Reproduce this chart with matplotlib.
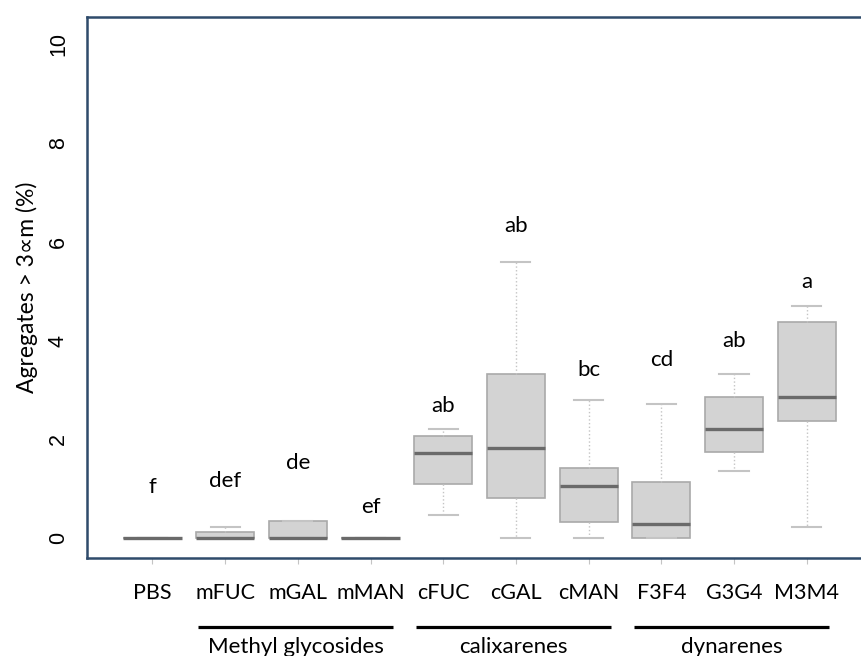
import matplotlib
matplotlib.use("Agg")
import matplotlib.pyplot as plt
import matplotlib.transforms as mtransforms

# kateqoriyalar ve qutu statistikasi (gozle oxunub)
groups = ["PBS", "mFUC", "mGAL", "mMAN", "cFUC", "cGAL", "cMAN", "F3F4", "G3G4", "M3M4"]
whislo = [0, 0, 0, 0, 0.47, 0, 0, 0, 1.36, 0.23]
q1 = [0, 0, 0, 0, 1.09, 0.82, 0.33, 0, 1.74, 2.37]
med = [0, 0, 0, 0, 1.72, 1.82, 1.06, 0.28, 2.21, 2.85]
q3 = [0, 0.13, 0.34, 0, 2.07, 3.32, 1.43, 1.13, 2.85, 4.38]
whishi = [0, 0.23, 0.34, 0, 2.22, 5.59, 2.80, 2.72, 3.33, 4.70]
letters = ["f", "def", "de", "ef", "ab", "ab", "bc", "cd", "ab", "a"]
letter_y = [1.04, 1.15, 1.52, 0.64, 2.68, 6.31, 3.41, 3.60, 4.00, 5.19]
yticks = [0, 2, 4, 6, 8, 10]
families = ["Methyl glycosides", "calixarenes", "dynarenes"]
family_span = [(2, 4), (5, 7), (8, 10)]

W, H = 861, 656
fig = plt.figure(figsize=(W / 100, H / 100), dpi=100)
ax = fig.add_axes([87 / W, (H - 558) / H, (W - 87) / W, (558 - 17) / H])

stats = []
for i in range(len(groups)):
    stats.append({"whislo": whislo[i], "q1": q1[i], "med": med[i],
                  "q3": q3[i], "whishi": whishi[i], "fliers": []})
pos = list(range(1, len(groups) + 1))

ax.bxp(stats, positions=pos, widths=0.8, capwidths=0.4, patch_artist=True,
       boxprops=dict(facecolor="#d3d3d3", edgecolor="#a9a9a9", linewidth=1.2),
       medianprops=dict(color="#6a6a6a", linewidth=2.4),
       whiskerprops=dict(color="#c4c4c4", linewidth=1.0, linestyle=":"),
       capprops=dict(color="#c4c4c4", linewidth=1.5))

ax.set_xlim(0.1, 0.1 + (W - 87) / 72.7)
ax.set_ylim(-0.4, 10.55)

# oxlar
for s in ["left", "top", "bottom"]:
    ax.spines[s].set_color("#2f4b6b")
    ax.spines[s].set_linewidth(1.8)
ax.spines["right"].set_visible(False)

ax.set_yticks(yticks)
ax.set_yticklabels([str(v) for v in yticks], rotation=90, va="center",
                   family="Liberation Sans", fontsize=15.5)
ax.tick_params(axis="y", length=0, pad=13)
ax.set_xticks(pos)
ax.set_xticklabels(groups, family="Lato", fontsize=15.5)
ax.tick_params(axis="x", length=4, color="#c4c4c4", pad=14)
ax.set_ylabel("Agregates > 3\u221dm (%)", family=["Lato", "DejaVu Sans"],
              fontsize=16.5, labelpad=7)

# herfler
for p, t, y in zip(pos, letters, letter_y):
    ax.text(p, y, t, ha="center", va="center", family="Lato", fontsize=16)

# qrup xetleri
tr = mtransforms.blended_transform_factory(ax.transData, ax.transAxes)
for name, (a, b) in zip(families, family_span):
    ax.plot([a - 0.37, b + 0.31], [-0.127, -0.127], color="black", linewidth=2.3,
            transform=tr, clip_on=False, solid_capstyle="butt")
    ax.text((a + b) / 2 - 0.03, -0.146, name, ha="center", va="top",
            family="Lato", fontsize=16, transform=tr)

fig.savefig("out.png", dpi=100)
